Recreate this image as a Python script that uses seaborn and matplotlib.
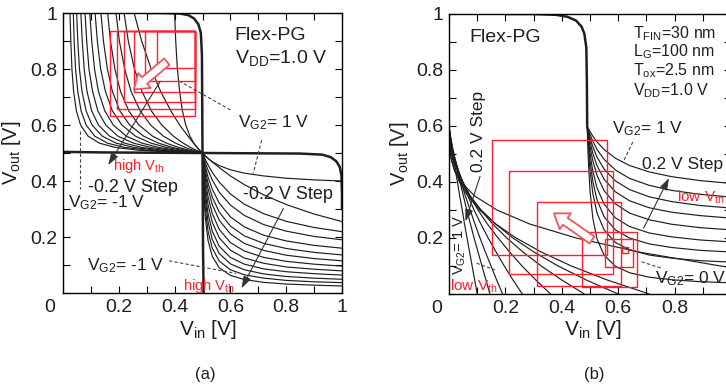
import matplotlib
matplotlib.use("Agg")
import matplotlib.pyplot as plt
from matplotlib.patches import Rectangle
import pandas as pd
import seaborn as sns

# ======================= data : panel (a) =======================
# Vin grid of the read-disturbed inverter curves (right lobe)
vin_a = [0.5, 0.504, 0.51, 0.52, 0.535, 0.56, 0.6, 0.65, 0.72, 0.8, 0.9, 1.0]
# Vout for VG2 = 1 V ... -1 V (top -> bottom)
a_c13 = [0.5, 0.495, 0.489, 0.480, 0.469, 0.455, 0.440, 0.428, 0.418, 0.410, 0.404, 0.400]
a_c12 = [0.5, 0.496, 0.490, 0.481, 0.468, 0.448, 0.418, 0.387, 0.350, 0.316, 0.282, 0.255]
a_c11 = [0.5, 0.491, 0.477, 0.457, 0.431, 0.396, 0.354, 0.317, 0.283, 0.256, 0.234, 0.219]
a_c10 = [0.5, 0.486, 0.466, 0.438, 0.404, 0.360, 0.314, 0.277, 0.244, 0.221, 0.202, 0.190]
a_c9 = [0.5, 0.479, 0.452, 0.414, 0.371, 0.321, 0.272, 0.236, 0.206, 0.186, 0.170, 0.160]
a_c8 = [0.5, 0.473, 0.438, 0.392, 0.343, 0.289, 0.239, 0.204, 0.177, 0.159, 0.145, 0.136]
a_c7 = [0.5, 0.466, 0.424, 0.371, 0.316, 0.260, 0.211, 0.177, 0.152, 0.135, 0.123, 0.115]
a_c6 = [0.5, 0.456, 0.404, 0.343, 0.284, 0.227, 0.180, 0.150, 0.127, 0.113, 0.103, 0.096]
a_c5 = [0.5, 0.445, 0.383, 0.315, 0.253, 0.197, 0.153, 0.125, 0.106, 0.093, 0.085, 0.079]
a_c4 = [0.5, 0.430, 0.358, 0.283, 0.221, 0.167, 0.127, 0.103, 0.086, 0.076, 0.069, 0.064]
a_c3 = [0.5, 0.415, 0.333, 0.254, 0.191, 0.141, 0.104, 0.083, 0.068, 0.059, 0.053, 0.049]
a_c2 = [0.5, 0.394, 0.302, 0.220, 0.160, 0.114, 0.083, 0.065, 0.053, 0.045, 0.040, 0.037]
a_c1 = [0.5, 0.371, 0.269, 0.187, 0.131, 0.090, 0.063, 0.048, 0.038, 0.032, 0.028, 0.025]
vout_a = [a_c13, a_c12, a_c11, a_c10, a_c9, a_c8, a_c7, a_c6, a_c5, a_c4, a_c3, a_c2, a_c1]

# hold-mode inverter VTC (thick)
vtc_a_x = [0.30, 0.35, 0.42, 0.45, 0.47, 0.485, 0.494, 0.498, 0.5, 0.502, 0.504]
vtc_a_y = [1.0, 1.0, 0.998, 0.992, 0.98, 0.96, 0.93, 0.85, 0.5, 0.15, 0.0]

# nested noise-margin squares (anchored at common top-right corner)
sq_a_right = 0.473
sq_a_top = 0.937
sq_a_side = [0.305, 0.28, 0.255, 0.22, 0.18, 0.135]

# ======================= data : panel (b) =======================
vin_b = [0.49, 0.494, 0.5, 0.51, 0.525, 0.55, 0.59, 0.64, 0.71, 0.79, 0.89, 1.0]
b_r1 = [0.6, 0.592, 0.580, 0.564, 0.543, 0.516, 0.485, 0.459, 0.436, 0.419, 0.405, 0.395]
b_r2 = [0.6, 0.587, 0.570, 0.546, 0.516, 0.481, 0.443, 0.413, 0.388, 0.370, 0.356, 0.346]
b_r3 = [0.6, 0.582, 0.558, 0.526, 0.489, 0.446, 0.404, 0.373, 0.347, 0.330, 0.316, 0.307]
b_r4 = [0.6, 0.575, 0.544, 0.503, 0.458, 0.410, 0.365, 0.333, 0.308, 0.292, 0.280, 0.271]
b_r5 = [0.6, 0.567, 0.527, 0.476, 0.423, 0.369, 0.322, 0.289, 0.265, 0.249, 0.237, 0.229]
b_r6 = [0.6, 0.555, 0.502, 0.439, 0.379, 0.321, 0.272, 0.241, 0.218, 0.204, 0.193, 0.186]
b_r7 = [0.6, 0.541, 0.475, 0.402, 0.336, 0.276, 0.229, 0.200, 0.179, 0.166, 0.156, 0.150]
b_r8 = [0.6, 0.522, 0.442, 0.359, 0.289, 0.229, 0.184, 0.158, 0.139, 0.128, 0.119, 0.114]
b_r9 = [0.6, 0.479, 0.369, 0.271, 0.196, 0.139, 0.099, 0.076, 0.060, 0.051, 0.044, 0.040]
vout_b_right = [b_r1, b_r2, b_r3, b_r4, b_r5, b_r6, b_r7, b_r8, b_r9]

# left lobe family: Vin position read at fixed Vout levels
vout_b_grid = [0.60, 0.56, 0.52, 0.48, 0.44, 0.40, 0.35, 0.30, 0.25, 0.20, 0.15, 0.10, 0.05, 0.0]
b_l1 = [0, 0.005, 0.011, 0.017, 0.023, 0.030, 0.038, 0.047, 0.055, 0.064, 0.073, 0.082, 0.091, 0.100]
b_l2 = [0, 0.006, 0.013, 0.021, 0.030, 0.039, 0.051, 0.063, 0.076, 0.089, 0.103, 0.117, 0.131, 0.145]
b_l3 = [0, 0.005, 0.013, 0.022, 0.032, 0.043, 0.058, 0.075, 0.092, 0.110, 0.129, 0.149, 0.169, 0.190]
b_l4 = [0, 0.004, 0.011, 0.022, 0.034, 0.047, 0.067, 0.089, 0.113, 0.139, 0.167, 0.196, 0.227, 0.260]
b_l5 = [0, 0.003, 0.010, 0.020, 0.033, 0.050, 0.074, 0.103, 0.136, 0.174, 0.215, 0.259, 0.308, 0.360]
b_l6 = [0, 0.002, 0.007, 0.016, 0.030, 0.048, 0.076, 0.112, 0.155, 0.205, 0.262, 0.327, 0.400, 0.480]
b_l7 = [0, 0.001, 0.005, 0.013, 0.025, 0.043, 0.073, 0.114, 0.165, 0.227, 0.301, 0.387, 0.487, 0.600]
b_l8 = [0, 0.001, 0.003, 0.009, 0.020, 0.037, 0.067, 0.109, 0.166, 0.238, 0.327, 0.434, 0.561, 0.710]
b_l9 = [0, 0.000, 0.002, 0.008, 0.020, 0.043, 0.091, 0.170, 0.286, 0.451, 0.673, 0.963, 1.332, 1.790]
vin_b_left = [b_l1, b_l2, b_l3, b_l4, b_l5, b_l6, b_l7, b_l8, b_l9]

vtc_b_x = [0.20, 0.30, 0.38, 0.42, 0.45, 0.47, 0.48, 0.487, 0.489, 0.49]
vtc_b_y = [1.0, 1.0, 0.997, 0.99, 0.977, 0.955, 0.93, 0.88, 0.75, 0.6]

sq_b_x0 = [0.151, 0.214, 0.311, 0.473, 0.553, 0.612]
sq_b_y0 = [0.139, 0.072, 0.030, 0.026, 0.097, 0.146]
sq_b_side = [0.41, 0.366, 0.30, 0.195, 0.10, 0.022]

tick_vals = [0, 0.1, 0.2, 0.3, 0.4, 0.5, 0.6, 0.7, 0.8, 0.9, 1.0]
tick_labels = ['', '', '0.2', '', '0.4', '', '0.6', '', '0.8', '', '1']

# ======================= style =======================
sns.set_theme(style="ticks")
plt.rcParams['font.family'] = ['Liberation Sans', 'DejaVu Sans']
plt.rcParams['mathtext.default'] = 'regular'
TXT = '#1e1e28'
RED = '#ff1f2e'
RED_ARROW = '#f2555f'
LINE = '#1f1f1f'

fig = plt.figure(figsize=(7.26, 3.86), dpi=100)
ax_a = fig.add_axes([63 / 726, 93 / 386, 279 / 726, 280 / 386])
ax_b = fig.add_axes([449 / 726, 92 / 386, 282 / 726, 280 / 386])


def frame(xs_list, ys_list):
    rows = []
    for i, (xs, ys) in enumerate(zip(xs_list, ys_list)):
        for x, y in zip(xs, ys):
            rows.append((i, x, y))
    return pd.DataFrame(rows, columns=['curve', 'x', 'y'])


def draw_family(ax, df, lw):
    sns.lineplot(data=df, x='x', y='y', units='curve', estimator=None, sort=False,
                 color=LINE, lw=lw, ax=ax, legend=False)


def setup(ax):
    ax.set_xlim(0, 1)
    ax.set_ylim(0, 1)
    ax.set_xticks(tick_vals)
    ax.set_yticks(tick_vals)
    ax.set_xticklabels(tick_labels)
    ax.set_yticklabels(tick_labels)
    ax.tick_params(direction='in', length=5, width=0.8, top=True, right=True,
                   labelsize=14, colors='black', labelcolor=TXT, pad=4)
    for s in ax.spines.values():
        s.set_linewidth(1.0)
        s.set_color('black')
    ax.set_xlabel('$V_{in}$ [V]', fontsize=15, color=TXT)
    ax.set_ylabel('$V_{out}$ [V]', fontsize=14.5, color=TXT)


# ----------------------- panel (a) -----------------------
ax = ax_a
right_a = frame([vin_a] * len(vout_a), vout_a)
left_a = frame(vout_a, [vin_a] * len(vout_a))
draw_family(ax, right_a, 0.85)
draw_family(ax, left_a, 0.85)
thick_a = frame([vtc_a_x, vtc_a_y], [vtc_a_y, vtc_a_x])
draw_family(ax, thick_a, 1.8)
setup(ax)
ax.xaxis.set_label_coords(0.52, -0.089)
ax.yaxis.set_label_coords(-0.143, 0.5)
ax.text(-0.047, -0.02, '0', transform=ax.transAxes, ha='center', va='top', fontsize=14, color=TXT)

for s in sq_a_side:
    ax.add_patch(Rectangle((sq_a_right - s, sq_a_top - s), s, s, fill=False,
                           ec=RED, lw=1.0, zorder=4))
ax.annotate('', xy=(0.254, 0.727), xytext=(0.372, 0.826),
            arrowprops=dict(arrowstyle='simple,head_length=0.5,head_width=0.7,tail_width=0.3',
                            fc='white', ec=RED_ARROW, lw=1.3, shrinkA=0, shrinkB=0,
                            mutation_scale=20), zorder=6)

blk = dict(arrowstyle='-|>,head_length=0.6,head_width=0.2', color='#333333', lw=0.8,
           shrinkA=0, shrinkB=0, mutation_scale=12)
ax.annotate('', xy=(0.162, 0.457), xytext=(0.348, 0.755), arrowprops=blk, zorder=7)
ax.annotate('', xy=(0.64, 0.017), xytext=(0.79, 0.302), arrowprops=blk, zorder=7)

dash = dict(color='#444444', lw=0.8, ls=(0, (3, 2)), zorder=5)
ax.plot([0.6, 0.42], [0.654, 0.755], **dash)
ax.plot([0.712, 0.682], [0.546, 0.4275], **dash)
ax.plot([0.38, 0.62], [0.115, 0.07], **dash)
ax.plot([0.06, 0.06], [0.58, 0.37], **dash)

ax.text(0.616, 0.905, 'Flex-PG', fontsize=14, color=TXT, zorder=8)
ax.text(0.616, 0.82, '$V_{DD}$=1.0 V', fontsize=14, color=TXT, zorder=8)
ax.text(0.627, 0.59, '$V_{G2}$= 1 V', fontsize=12.5, color=TXT, zorder=8)
ax.text(0.645, 0.336, '-0.2 V Step', fontsize=13, color=TXT, zorder=8)
ax.text(0.43, 0.011, 'high $V_{th}$', fontsize=10.5, color=RED, zorder=8)
ax.text(0.086, 0.082, '$V_{G2}$= -1 V', fontsize=12.5, color=TXT, zorder=8)
ax.text(0.18, 0.438, 'high $V_{th}$', fontsize=10.5, color=RED, zorder=8)
ax.text(0.09, 0.362, '-0.2 V Step', fontsize=13, color=TXT, zorder=8)
ax.text(0.018, 0.305, '$V_{G2}$= -1 V', fontsize=12.5, color=TXT, zorder=8)

# ----------------------- panel (b) -----------------------
ax = ax_b
right_b = frame([vin_b] * len(vout_b_right), vout_b_right)
left_b = frame(vin_b_left, [vout_b_grid] * len(vin_b_left))
draw_family(ax, right_b, 0.85)
draw_family(ax, left_b, 0.85)
thick_b = frame([vtc_b_x], [vtc_b_y])
draw_family(ax, thick_b, 1.8)
setup(ax)
ax.xaxis.set_label_coords(0.512, -0.086)
ax.yaxis.set_label_coords(-0.135, 0.5)
ax.text(-0.043, -0.02, '0', transform=ax.transAxes, ha='center', va='top', fontsize=14, color=TXT)

for x0, y0, s in zip(sq_b_x0, sq_b_y0, sq_b_side):
    ax.add_patch(Rectangle((x0, y0), s, s, fill=False, ec=RED, lw=1.0, zorder=4))
ax.annotate('', xy=(0.372, 0.288), xytext=(0.507, 0.193),
            arrowprops=dict(arrowstyle='simple,head_length=0.5,head_width=0.7,tail_width=0.3',
                            fc='white', ec=RED_ARROW, lw=1.3, shrinkA=0, shrinkB=0,
                            mutation_scale=20), zorder=6)
ax.annotate('', xy=(0.78, 0.414), xytext=(0.69, 0.235), arrowprops=blk, zorder=7)
ax.annotate('', xy=(0.058, 0.26), xytext=(0.11, 0.42), arrowprops=blk, zorder=7)
ax.plot([0.652, 0.617], [0.543, 0.471], **dash)
ax.plot([0.683, 0.754], [0.115, 0.092], **dash)
ax.plot([0.098, 0.163], [0.11, 0.086], **dash)

ax.text(0.074, 0.9, 'Flex-PG', fontsize=14, color=TXT, zorder=8)
ax.text(0.653, 0.914, '$T_{FIN}$=30 nm', fontsize=11.5, color=TXT, zorder=8)
ax.text(0.653, 0.848, '$L_{G}$=100 nm', fontsize=11.5, color=TXT, zorder=8)
ax.text(0.653, 0.782, '$T_{ox}$=2.5 nm', fontsize=11.5, color=TXT, zorder=8)
ax.text(0.653, 0.711, '$V_{DD}$=1.0 V', fontsize=11.5, color=TXT, zorder=8)
ax.text(0.578, 0.575, '$V_{G2}$= 1 V', fontsize=12.5, color=TXT, zorder=8)
ax.text(0.684, 0.446, '0.2 V Step', fontsize=12.5, color=TXT, zorder=8)
ax.text(0.807, 0.33, 'low $V_{th}$', fontsize=11, color=RED, zorder=8)
ax.text(0.73, 0.04, '$V_{G2}$= 0 V', fontsize=12.5, color=TXT, zorder=8)
ax.text(0.106, 0.58, '0.2 V Step', fontsize=12.5, color=TXT, rotation=90,
        ha='center', va='center', zorder=8)
ax.text(0.039, 0.175, '$V_{G2}$= 1 V', fontsize=10.5, color=TXT, rotation=90,
        ha='center', va='center', zorder=8)
ax.text(0.004, 0.012, 'low $V_{th}$', fontsize=11, color=RED, zorder=8)

fig.text(205 / 726, 1 - 375 / 386, '(a)', fontsize=12, color=TXT, ha='center', va='center')
fig.text(594 / 726, 1 - 375 / 386, '(b)', fontsize=12, color=TXT, ha='center', va='center')

fig.savefig('out.png', dpi=100)
